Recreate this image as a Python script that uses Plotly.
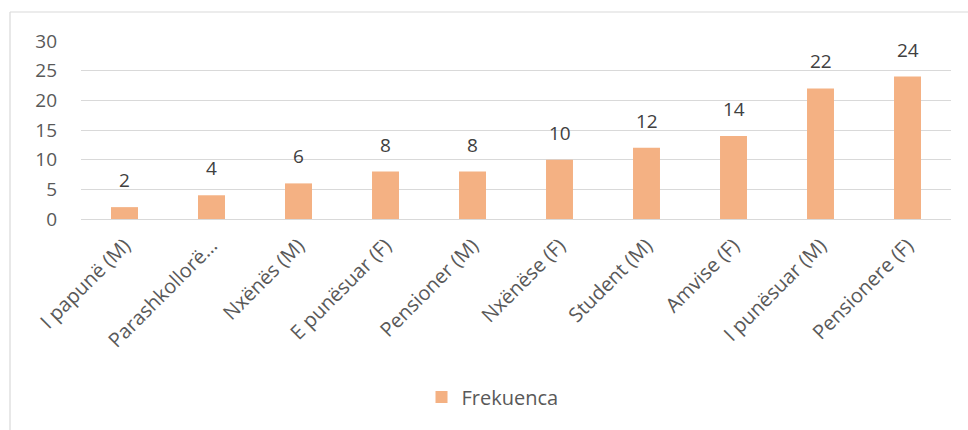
import plotly.graph_objects as go

categories = ["I papunë (M)", "Parashkollorë…", "Nxënës (M)", "E punësuar (F)", "Pensioner (M)",
              "Nxënëse (F)", "Student (M)", "Amvise (F)", "I punësuar (M)", "Pensionere (F)"]
frekuenca = [2, 4, 6, 8, 8, 10, 12, 14, 22, 24]
y_ticks = [0, 5, 10, 15, 20, 25, 30]

FONT = "Open Sans"
fig = go.Figure()
fig.add_trace(go.Bar(
    x=categories, y=frekuenca, name="Frekuenca",
    marker=dict(color="#F4B183", line=dict(width=0)),
    width=0.31,
    cliponaxis=False,
))
for c, v in zip(categories, frekuenca):
    fig.add_annotation(x=c, y=v, text=str(v), showarrow=False, yanchor="bottom", yshift=12,
                       font=dict(family=FONT, size=19, color="#404040"))

L, R, T, B = 81, 17, 41, 211
fig.update_layout(
    width=968, height=430,
    margin=dict(l=L, r=R, t=T, b=B, pad=0),
    paper_bgcolor="white", plot_bgcolor="white",
    font=dict(family=FONT, color="#595959"),
    showlegend=True,
    legend=dict(orientation="h", x=0.473, xanchor="center", y=-1.0, yanchor="middle",
                font=dict(family=FONT, size=20, color="#595959")),
    xaxis=dict(tickangle=-45, tickfont=dict(family=FONT, size=20, color="#595959"),
               showgrid=False, showline=False, ticks="", fixedrange=True,
               ticklabelstandoff=10),
    yaxis=dict(range=[0, 30], tickvals=y_ticks, showgrid=True, gridcolor="#D9D9D9", gridwidth=1,
               zeroline=True, zerolinecolor="#D9D9D9", zerolinewidth=1,
               tickfont=dict(family=FONT, size=19, color="#595959"), ticks="",
               ticklabelstandoff=23),
)

pw, ph = 968 - L - R, 430 - T - B
bx0 = (10 - L) / pw
by1 = 1 + (T - 12) / ph
fig.add_shape(type="line", xref="paper", yref="paper", x0=bx0, x1=bx0, y0=by1, y1=-(B + 10) / ph,
              line=dict(color="#D9D9D9", width=1.2))
fig.add_shape(type="line", xref="paper", yref="paper", x0=bx0, x1=1 + (R + 10) / pw, y0=by1, y1=by1,
              line=dict(color="#D9D9D9", width=1.2))

fig.write_html("out.html")
